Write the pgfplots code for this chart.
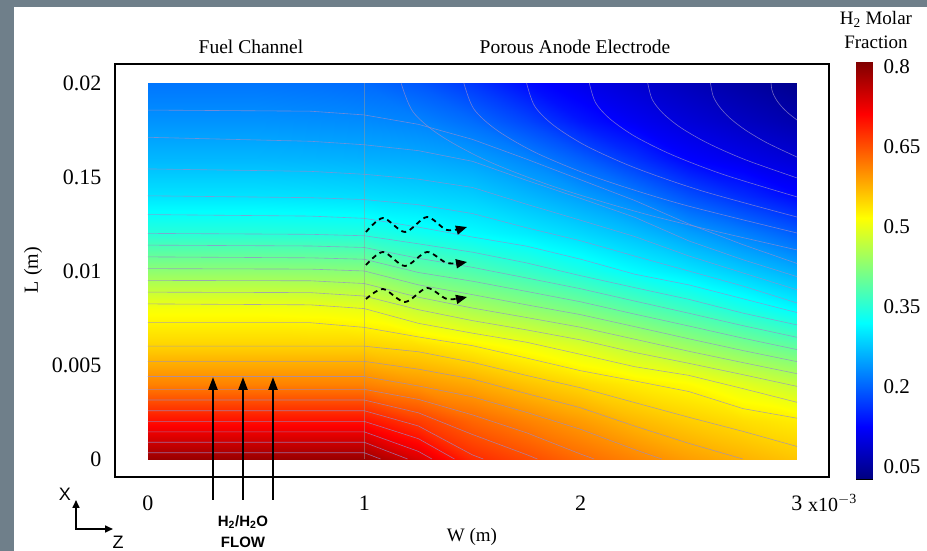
\documentclass[border=0pt]{standalone}
\usepackage{fontspec}
\setmainfont{Liberation Serif}
\setsansfont{Liberation Sans}
\usepackage{pgfplots}
\usepackage{pgfplotstable}
\pgfplotsset{compat=1.18}
\usetikzlibrary{arrows.meta}
\definecolor{bggray}{RGB}{111,127,138}
\definecolor{cline}{RGB}{150,140,205}
\pgfplotsset{colormap={myjet}{rgb255(0cm)=(0,0,128) rgb255(1cm)=(0,0,255) rgb255(3cm)=(0,255,255) rgb255(5cm)=(255,255,0) rgb255(7cm)=(255,0,0) rgb255(8cm)=(128,0,0)}}

% H2 molar fraction, x in 1e-3 m, y in m
\pgfplotstableread{
x y v
0 0 0.79
0.25 0 0.79
0.5 0 0.79
0.75 0 0.79
1 0 0.79
1.25 0 0.74
1.5 0 0.68
1.75 0 0.655
2 0 0.63
2.25 0 0.61
2.5 0 0.59
2.75 0 0.575
3 0 0.56
0 0.002 0.70
0.25 0.002 0.70
0.5 0.002 0.70
0.75 0.002 0.70
1 0.002 0.70
1.25 0.002 0.666
1.5 0.002 0.634
1.75 0.002 0.612
2 0.002 0.592
2.25 0.002 0.570
2.5 0.002 0.554
2.75 0.002 0.541
3 0.002 0.530
0 0.004 0.612
0.25 0.004 0.612
0.5 0.004 0.612
0.75 0.004 0.612
1 0.004 0.612
1.25 0.004 0.596
1.5 0.004 0.582
1.75 0.004 0.562
2 0.004 0.545
2.25 0.004 0.530
2.5 0.004 0.5175
2.75 0.004 0.494
3 0.004 0.471
0 0.006 0.55
0.25 0.006 0.55
0.5 0.006 0.55
0.75 0.006 0.55
1 0.006 0.55
1.25 0.006 0.542
1.5 0.006 0.526
1.75 0.006 0.508
2 0.006 0.4875
2.25 0.006 0.464
2.5 0.006 0.4395
2.75 0.006 0.416
3 0.006 0.393
0 0.008 0.51
0.25 0.008 0.51
0.5 0.008 0.51
0.75 0.008 0.507
1 0.008 0.50
1.25 0.008 0.473
1.5 0.008 0.451
1.75 0.008 0.432
2 0.008 0.413
2.25 0.008 0.389
2.5 0.008 0.366
2.75 0.008 0.341
3 0.008 0.317
0 0.010 0.43
0.25 0.010 0.43
0.5 0.010 0.43
0.75 0.010 0.428
1 0.010 0.425
1.25 0.010 0.397
1.5 0.010 0.381
1.75 0.010 0.362
2 0.010 0.341
2.25 0.010 0.319
2.5 0.010 0.301
2.75 0.010 0.280
3 0.010 0.258
0 0.012 0.35
0.25 0.012 0.35
0.5 0.012 0.35
0.75 0.012 0.348
1 0.012 0.345
1.25 0.012 0.332
1.5 0.012 0.319
1.75 0.012 0.306
2 0.012 0.290
2.25 0.012 0.271
2.5 0.012 0.247
2.75 0.012 0.223
3 0.012 0.196
0 0.014 0.30
0.25 0.014 0.30
0.5 0.014 0.30
0.75 0.014 0.298
1 0.014 0.295
1.25 0.014 0.290
1.5 0.014 0.283
1.75 0.014 0.266
2 0.014 0.247
2.25 0.014 0.222
2.5 0.014 0.186
2.75 0.014 0.158
3 0.014 0.131
0 0.016 0.265
0.25 0.016 0.265
0.5 0.016 0.265
0.75 0.016 0.263
1 0.016 0.260
1.25 0.016 0.256
1.5 0.016 0.247
1.75 0.016 0.227
2 0.016 0.197
2.25 0.016 0.162
2.5 0.016 0.125
2.75 0.016 0.108
3 0.016 0.092
0 0.018 0.238
0.25 0.018 0.238
0.5 0.018 0.238
0.75 0.018 0.235
1 0.018 0.232
1.25 0.018 0.226
1.5 0.018 0.208
1.75 0.018 0.178
2 0.018 0.141
2.25 0.018 0.116
2.5 0.018 0.095
2.75 0.018 0.078
3 0.018 0.062
0 0.020 0.215
0.25 0.020 0.215
0.5 0.020 0.215
0.75 0.020 0.212
1 0.020 0.207
1.25 0.020 0.192
1.5 0.020 0.167
1.75 0.020 0.133
2 0.020 0.110
2.25 0.020 0.090
2.5 0.020 0.072
2.75 0.020 0.055
3 0.020 0.038
}\fielddata

\pgfplotstableread{
x y
0 0.0275
1 0.0275
0 0.1252
1 0.1252
0 0.3206
1 0.3206
0 0.5159
1 0.5159
0 0.7113
1 0.7113
0 0.809
1 0.809
}\cbdata

\pgfplotsset{cl/.style={cline, opacity=0.75, line width=0.6pt, no markers, forget plot}}

\begin{document}
\begin{tikzpicture}
\path[use as bounding box] (0,0) rectangle (927pt,551pt);
\fill[white] (0,0) rectangle (927pt,551pt);
\fill[bggray] (0,0) rectangle (14pt,551pt);
\fill[bggray] (0,544pt) rectangle (927pt,551pt);

\begin{axis}[
  at={(115pt,74pt)}, anchor=south west,
  scale only axis, width=714pt, height=413pt,
  xmin=-0.1525, xmax=3.148, ymin=-0.000957, ymax=0.02101,
  axis line style={line width=2.2pt},
  xtick={0,1,2,3}, xticklabels={0,1,2,3},
  ytick={0,0.005,0.01,0.015,0.02}, yticklabels={0,0.005,0.01,0.15,0.02},
  major tick length=0pt,
  tick label style={font=\fontsize{22}{22}\selectfont},
  xticklabel style={yshift=-15pt},
  yticklabel style={xshift=-10pt},
  colormap name=myjet,
  point meta min=0.0275, point meta max=0.809,
  scaled ticks=false,
]
\addplot[surf, shader=interp, mesh/cols=13, point meta=\thisrow{v}] table[x=x,y=y] {\fielddata};
% iso-lines of the molar fraction
\addplot[cl] coordinates {(0,0.000333) (1,0.000333) (1.075,0)};
\addplot[cl] coordinates {(0,0.000889) (1,0.000889) (1.2,0)};
\addplot[cl] coordinates {(0,0.001444) (1,0.001444) (1.25,0.000405) (1.3125,0)};
\addplot[cl] coordinates {(0,0.002) (1,0.002) (1.25,0.001081) (1.4167,0)};
\addplot[cl] coordinates {(0,0.002568) (1,0.002568) (1.25,0.001757) (1.5,0.000217) (1.55,0)};
\addplot[cl] coordinates {(0,0.003136) (1,0.003136) (1.25,0.002457) (1.5,0.001304) (1.75,0.000233) (1.8,0)};
\addplot[cl] coordinates {(0,0.003705) (1,0.003705) (1.25,0.003171) (1.5,0.002346) (1.75,0.001395) (2,0.000263) (2.0625,0)};
\addplot[cl] coordinates {(0,0.004387) (1,0.004387) (1.25,0.003886) (1.5,0.003308) (1.75,0.00248) (2,0.001579) (2.25,0.0005) (2.375,0)};
\addplot[cl] coordinates {(0,0.005194) (1,0.005194) (1.25,0.004778) (1.5,0.00425) (1.75,0.00348) (2,0.002723) (2.25,0.00175) (2.5,0.000833) (2.75,0)};
\addplot[cl] coordinates {(0,0.006) (1,0.006) (1.25,0.005704) (1.5,0.005143) (1.75,0.004444) (2,0.003787) (2.25,0.003) (2.5,0.002219) (2.75,0.001471) (3,0.000667)};
\addplot[cl] coordinates {(0,0.00725) (0.75,0.00725) (1,0.007) (1.25,0.006493) (1.5,0.006027) (1.75,0.00537) (2,0.004696) (2.25,0.004152) (2.5,0.003589) (2.75,0.002681) (3,0.00217)};
\addplot[cl] coordinates {(0,0.00825) (0.75,0.0082) (1,0.008) (1.25,0.007217) (1.5,0.006693) (1.75,0.006211) (2,0.005565) (2.25,0.004909) (2.5,0.004449) (2.75,0.003745) (3,0.003017)};
\addplot[cl] coordinates {(0,0.008875) (0.75,0.00885) (1,0.008667) (1.25,0.007942) (1.5,0.00736) (1.75,0.006868) (2,0.006336) (2.25,0.005667) (2.5,0.00509) (2.75,0.004487) (3,0.003864)};
\addplot[cl] coordinates {(0,0.0095) (0.75,0.00948) (1,0.009333) (1.25,0.008605) (1.5,0.008029) (1.75,0.007526) (2,0.007007) (2.25,0.006373) (2.5,0.005731) (2.75,0.005128) (3,0.004538)};
\addplot[cl] coordinates {(0,0.010125) (0.75,0.0101) (1,0.010) (1.25,0.009263) (1.5,0.008743) (1.75,0.0082) (2,0.007678) (2.25,0.00704) (2.5,0.006395) (2.75,0.005769) (3,0.005179)};
\addplot[cl] coordinates {(0,0.01075) (0.75,0.0107) (1,0.010625) (1.25,0.009921) (1.5,0.009457) (1.75,0.008914) (2,0.008361) (2.25,0.007707) (2.5,0.007075) (2.75,0.006427) (3,0.00582)};
\addplot[cl] coordinates {(0,0.011375) (0.75,0.01133) (1,0.01125) (1.25,0.010677) (1.5,0.010194) (1.75,0.009629) (2,0.009056) (2.25,0.0084) (2.5,0.007755) (2.75,0.007093) (3,0.006474)};
\addplot[cl] coordinates {(0,0.012) (0.75,0.01195) (1,0.011875) (1.25,0.011446) (1.5,0.011) (1.75,0.010429) (2,0.00975) (2.25,0.009114) (2.5,0.008492) (2.75,0.00776) (3,0.007132)};
\addplot[cl] coordinates {(0,0.013) (0.75,0.01292) (1,0.0128) (1.25,0.012333) (1.5,0.011806) (1.75,0.011321) (2,0.010627) (2.25,0.009829) (2.5,0.009262) (2.75,0.008525) (3,0.007789)};
\addplot[cl] coordinates {(0,0.014) (0.75,0.0139) (1,0.0138) (1.25,0.013524) (1.5,0.013056) (1.75,0.0123) (2,0.011608) (2.25,0.010792) (2.5,0.01) (2.75,0.0092) (3,0.0083)};
\addplot[cl] coordinates {(0,0.015429) (0.75,0.0153) (1,0.015143) (1.25,0.014882) (1.5,0.014444) (1.75,0.01355) (2,0.012698) (2.25,0.011833) (2.5,0.0108) (2.75,0.0099) (3,0.0090)};
\addplot[cl] coordinates {(0,0.017111) (0.75,0.0169) (1,0.016714) (1.25,0.0164) (1.5,0.015833) (1.75,0.014821) (2,0.01386) (2.25,0.012857) (2.5,0.0116) (2.75,0.0106) (3,0.0097)};
\addplot[cl] coordinates {(0,0.01856) (0.75,0.0185) (1,0.0183) (1.25,0.0178) (1.5,0.0170) (1.75,0.01595) (2,0.01485) (2.25,0.01375) (2.5,0.0125) (2.75,0.0114) (3,0.0104)};
% iso-lines that leave through the top edge
\addplot[cl, smooth] coordinates {(1.17,0.02) (1.225,0.018464) (1.353,0.017194) (1.573,0.015835) (1.902,0.014388) (2.36,0.012843) (3,0.01112)};
\addplot[cl, smooth] coordinates {(1.46,0.02) (1.506,0.01862) (1.614,0.017478) (1.799,0.016257) (2.076,0.014957) (2.461,0.013568) (3,0.01202)};
\addplot[cl, smooth] coordinates {(1.75,0.02) (1.7875,0.018766) (1.875,0.017747) (2.025,0.016656) (2.25,0.015494) (2.5625,0.014253) (3,0.01287)};
\addplot[cl, smooth] coordinates {(2.04,0.02) (2.0688,0.018952) (2.136,0.018085) (2.2512,0.017158) (2.424,0.01617) (2.664,0.015116) (3,0.01394)};
\addplot[cl, smooth] coordinates {(2.31,0.02) (2.3307,0.019126) (2.379,0.018404) (2.4618,0.017632) (2.586,0.016808) (2.7585,0.01593) (3,0.01495)};
\addplot[cl, smooth] coordinates {(2.6,0.02) (2.612,0.019318) (2.64,0.018755) (2.688,0.018152) (2.76,0.01751) (2.86,0.016824) (3,0.01606)};
\addplot[cl, smooth] coordinates {(2.88,0.02) (2.8836,0.019659) (2.892,0.019377) (2.9064,0.019076) (2.928,0.018755) (2.958,0.018412) (3,0.01803)};
\draw[black!40, opacity=0.5, line width=0.4pt] (axis cs:1,0) -- (axis cs:1,0.02);
\end{axis}

\begin{axis}[
  at={(856pt,72pt)}, anchor=south west,
  scale only axis, width=16pt, height=417pt,
  xmin=0, xmax=1, ymin=0.0275, ymax=0.809,
  axis line style={line width=0.8pt},
  xtick=\empty,
  ytick={0.05,0.2,0.35,0.5,0.65,0.8},
  yticklabels={0.05,0.2,0.35,0.5,0.65,0.8},
  minor ytick={0.125,0.275,0.425,0.575,0.725},
  ytick pos=left, yticklabel pos=right,
  tick align=inside, major tick length=5pt, minor tick length=5pt,
  tick style={black, line width=0.8pt},
  yticklabel style={font=\fontsize{21}{21}\selectfont, xshift=8pt},
  colormap name=myjet,
  point meta min=0.0275, point meta max=0.809,
]
\addplot[surf, shader=interp, mesh/cols=2, point meta=y] table[x=x,y=y] {\cbdata};
\end{axis}

% texts
\node[font=\fontsize{19.5}{22}\selectfont] at (251pt,504pt) {Fuel Channel};
\node[font=\fontsize{19.5}{22}\selectfont] at (575pt,504pt) {Porous Anode Electrode};
\node[font=\fontsize{19}{24}\selectfont, align=center] at (876pt,521pt) {H\textsubscript{2} Molar\\Fraction};
\node[font=\fontsize{20}{22}\selectfont, rotate=90] at (33pt,281pt) {L (m)};
\node[font=\fontsize{19}{22}\selectfont] at (472pt,14pt) {W (m)};
\node[font=\fontsize{20}{22}\selectfont, anchor=west, inner sep=0pt] at (808pt,48pt) {x10\textsuperscript{$-$3}};

% flow arrows
\foreach \xx in {213,243,273}{
  \draw[line width=2.4pt, -{Triangle[length=13pt,width=9pt]}] (\xx pt,51pt) -- (\xx pt,174pt);
}
\node[font=\sffamily\bfseries\fontsize{15}{15}\selectfont] at (243pt,29pt) {H\textsubscript{2}/H\textsubscript{2}O};
\node[font=\sffamily\bfseries\fontsize{15}{15}\selectfont] at (243pt,9pt) {FLOW};

% coordinate glyph
\draw[line width=1.6pt, -{Triangle[length=8pt,width=7pt]}] (76pt,22pt) -- (76pt,51pt);
\draw[line width=1.6pt, -{Triangle[length=8pt,width=7pt]}] (75.2pt,22pt) -- (113pt,22pt);
\node[font=\sffamily\fontsize{18}{18}\selectfont] at (65pt,57pt) {X};
\node[font=\sffamily\fontsize{18}{18}\selectfont] at (118pt,9pt) {Z};

% diffusion wavy arrows
\draw[line width=1.8pt, dash pattern=on 5pt off 4pt, -{Triangle[length=11pt,width=9pt]}] plot[smooth] coordinates {(366pt,319pt) (383pt,333pt) (405pt,319pt) (427pt,334pt) (447pt,321pt) (467pt,324pt)};
\draw[line width=1.8pt, dash pattern=on 5pt off 4pt, -{Triangle[length=11pt,width=9pt]}] plot[smooth] coordinates {(366pt,286pt) (383pt,299pt) (405pt,285pt) (427pt,299pt) (447pt,288pt) (467pt,289pt)};
\draw[line width=1.8pt, dash pattern=on 5pt off 4pt, -{Triangle[length=11pt,width=9pt]}] plot[smooth] coordinates {(366pt,252pt) (383pt,262pt) (405pt,249pt) (427pt,263pt) (447pt,252pt) (467pt,254pt)};
\end{tikzpicture}
\end{document}
